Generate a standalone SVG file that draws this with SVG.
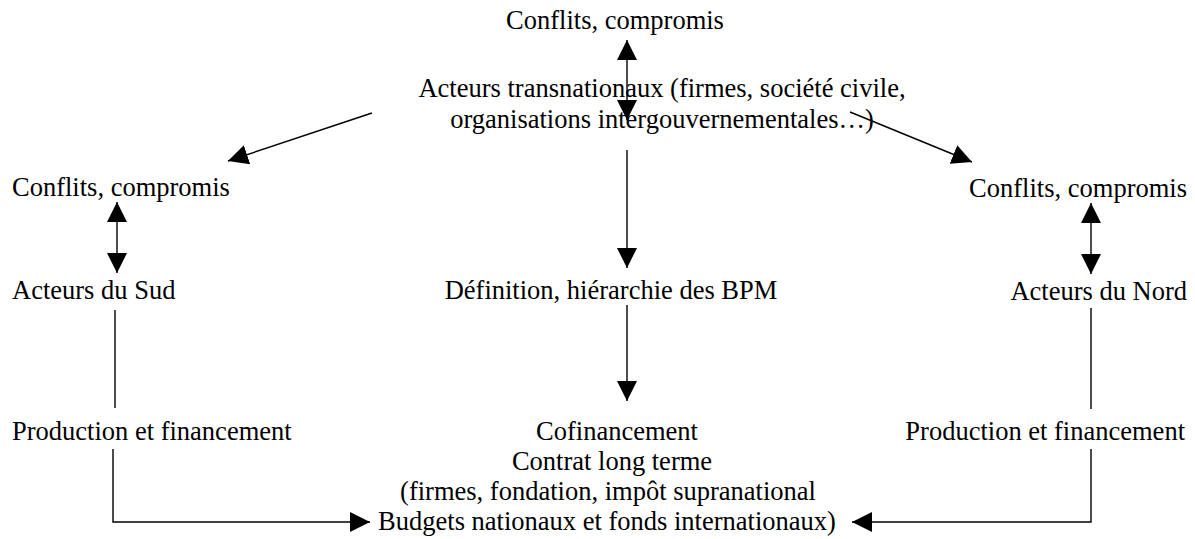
<svg xmlns="http://www.w3.org/2000/svg" width="1195" height="539" viewBox="0 0 1195 539">
<style>
text{font-family:"Liberation Serif","Times New Roman",serif;font-size:26.5px;fill:#000}
.c{text-anchor:middle}
.e{text-anchor:end}
.ln{stroke:#000;stroke-width:1.4;fill:none}
</style>
<defs>
<marker id="ah" markerUnits="userSpaceOnUse" markerWidth="20" markerHeight="20" viewBox="0 0 20 20" refX="20" refY="10" orient="auto-start-reverse">
<path d="M0,0 L20,10 L0,20 z" fill="#000"/>
</marker>
</defs>
<rect width="1195" height="539" fill="#fff"/>
<g id="connectors">
<line class="ln" x1="627" y1="40" x2="627" y2="120" marker-start="url(#ah)" marker-end="url(#ah)"/>
<line class="ln" x1="372" y1="113" x2="228" y2="161" marker-end="url(#ah)"/>
<line class="ln" x1="850" y1="112" x2="972" y2="162" marker-end="url(#ah)"/>
<line class="ln" x1="627" y1="150" x2="627" y2="268" marker-end="url(#ah)"/>
<line class="ln" x1="627" y1="305" x2="627" y2="401" marker-end="url(#ah)"/>
<line class="ln" x1="117" y1="202" x2="117" y2="273" marker-start="url(#ah)" marker-end="url(#ah)"/>
<line class="ln" x1="1091" y1="203" x2="1091" y2="274" marker-start="url(#ah)" marker-end="url(#ah)"/>
<line class="ln" x1="115" y1="310" x2="115" y2="408"/>
<line class="ln" x1="1091" y1="308" x2="1091" y2="409"/>
<polyline class="ln" points="113,449 113,522 370,522" marker-end="url(#ah)"/>
<polyline class="ln" points="1091,449 1091,522 852,522" marker-end="url(#ah)"/>
</g>
<g id="top-conflits"><text class="c" x="615" y="29">Conflits, compromis</text></g>
<g id="transnationaux">
<text class="c" x="662" y="97">Acteurs transnationaux (firmes, société civile,</text>
<text class="c" x="662" y="128">organisations intergouvernementales…)</text>
</g>
<g id="left-conflits"><text x="12" y="196">Conflits, compromis</text></g>
<g id="right-conflits"><text class="e" x="1187" y="197">Conflits, compromis</text></g>
<g id="acteurs-sud"><text x="12" y="299">Acteurs du Sud</text></g>
<g id="definition"><text class="c" x="611" y="299">Définition, hiérarchie des BPM</text></g>
<g id="acteurs-nord"><text class="e" x="1187" y="300">Acteurs du Nord</text></g>
<g id="prod-left"><text x="12" y="440">Production et financement</text></g>
<g id="prod-right"><text class="e" x="1185" y="440">Production et financement</text></g>
<g id="cofinancement">
<text class="c" x="617" y="440">Cofinancement</text>
<text class="c" x="612" y="470">Contrat long terme</text>
<text class="c" x="608" y="500">(firmes, fondation, impôt supranational</text>
<text class="c" x="607" y="530">Budgets nationaux et fonds internationaux)</text>
</g>
</svg>
